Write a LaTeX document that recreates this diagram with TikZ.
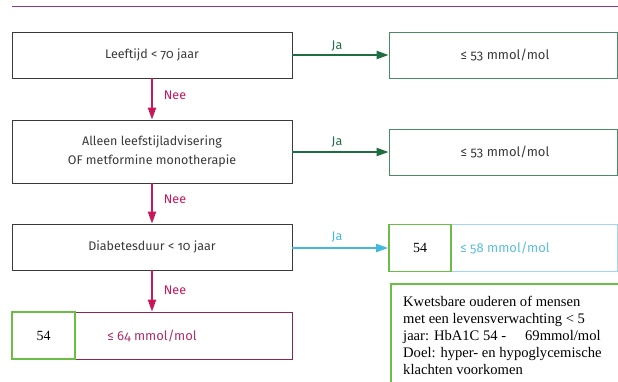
\documentclass[tikz,border=0pt]{standalone}
\usepackage{fontspec}
\setmainfont{Liberation Serif}
\newfontfamily\flowfont[Numbers=OldStyle]{Fira Sans}
\usetikzlibrary{arrows.meta}
\definecolor{topc}{HTML}{913B7A}
\definecolor{darkg}{HTML}{1F6E43}
\definecolor{resg}{HTML}{4A8A66}
\definecolor{crim}{HTML}{C8175A}
\definecolor{lblue}{HTML}{45B8E0}
\definecolor{lblueb}{HTML}{9FD8EA}
\definecolor{lbluet}{HTML}{5BC0DE}
\definecolor{plum}{HTML}{8E2450}
\definecolor{plumt}{HTML}{B0306A}
\definecolor{lime}{HTML}{6CBD45}
\definecolor{ink}{HTML}{3A3A3A}
\begin{document}
\begin{tikzpicture}[x=1pt,y=-1pt,
  decision/.style={draw=ink, line width=0.8pt, minimum width=280pt, minimum height=46pt, inner sep=0pt, font=\flowfont\fontsize{12.5}{19}\selectfont, text=ink, align=center},
  result/.style={line width=0.8pt, minimum width=228pt, minimum height=46pt, inner sep=0pt, font=\flowfont\fontsize{13}{15}\selectfont},
  sq/.style={draw=lime, line width=1.8pt, minimum height=46pt, inner sep=0pt, font=\fontsize{14}{16}\selectfont},
  lab/.style={inner sep=0pt, font=\flowfont\fontsize{12.5}{15}\selectfont},
  arr/.style={line width=2pt, -{Triangle[length=12pt,width=8pt]}}
]
\useasboundingbox (0,0) rectangle (618,381);
\clip (0,0) rectangle (618,381);
\fill[white] (0,0) rectangle (618,381);
\coordinate (tl) at (12,6);
\coordinate (tr) at (618,6);
\draw[topc, line width=0.8pt] (tl) -- (tr);

% decisions
\node[decision] (b1) at (152,55) {Leeftijd < 70 jaar};
\node[decision, minimum height=63pt] (b2) at (152,151.5) {Alleen leefstijladvisering\\OF metformine monotherapie};
\node[decision] (b3) at (152,247) {Diabetesduur < 10 jaar};
\node[result, draw=plum, text=plumt, minimum width=280pt, minimum height=47pt] (b4) at (152,335.5) {≤ 64 mmol/mol};
\node[sq, minimum width=63pt, minimum height=47pt] (g4) at (43.5,335.5) {54};

% results
\node[result, draw=resg, text=ink] (r1) at (503,55) {\hspace*{4pt}≤ 53 mmol/mol};
\node[result, draw=resg, text=ink] (r2) at (503,152) {\hspace*{4pt}≤ 53 mmol/mol};
\node[result, draw=lblueb, text=lbluet, minimum height=47pt] (r3) at (503,248) {\hspace*{4pt}≤ 58 mmol/mol};
\node[sq, minimum width=62pt, minimum height=47pt] (g3) at (420,248) {54};

% arrows
\draw[arr, darkg] (b1.east) -- (r1.west);
\draw[arr, darkg] (b2.east |- r2.west) -- (r2.west);
\draw[arr, lblue] (b3.east |- r3.west) -- (g3.west);
\draw[arr, crim] (b1.south) -- (b2.north);
\draw[arr, crim] (b2.south) -- (b3.north);
\draw[arr, crim] (b3.south) -- (b4.north);

% labels
\node[lab, text=darkg] (ja1) at (337,46) {Ja};
\node[lab, text=darkg] (ja2) at (337,142) {Ja};
\node[lab, text=lblue] (ja3) at (337,237) {Ja};
\node[lab, text=crim] (nee1) at (175,95) {Nee};
\node[lab, text=crim] (nee2) at (175,199) {Nee};
\node[lab, text=crim] (nee3) at (175,290) {Nee};

% note box
\node[draw=lime, line width=1.8pt, anchor=north west, minimum width=240pt, minimum height=120pt, inner sep=0pt] (kb) at (390,283) {};
\node[anchor=north west, inner sep=0pt, align=left, font=\fontsize{14.6}{17}\selectfont, text=black] (kbt) at (403,296.5) {Kwetsbare ouderen of mensen\\met een levensverwachting < 5\\jaar: HbA1C 54 -\hspace{1.3em}69mmol/mol\\Doel: hyper- en hypoglycemische\\klachten voorkomen};
\end{tikzpicture}
\end{document}
